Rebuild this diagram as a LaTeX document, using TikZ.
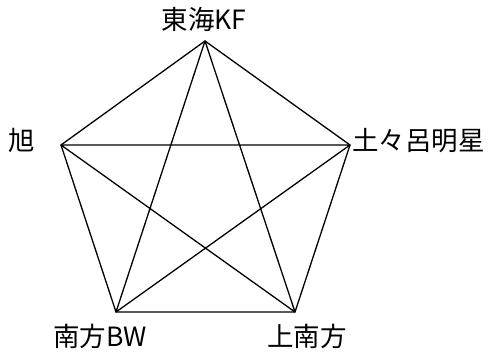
\documentclass[tikz,border=0pt]{standalone}
\usepackage{fontspec}
\setmainfont{Noto Sans CJK JP}
\usetikzlibrary{positioning}
\tikzset{
  station/.style={inner sep=0pt, font=\fontsize{26.5}{30}\selectfont},
  link/.style={line width=1.3pt, line join=round}
}

\begin{document}
\begin{tikzpicture}[x=1pt, y=-1pt]
      \useasboundingbox (0, 0) rectangle (500, 355);
      % corners of the pentagon
      \coordinate (tokai) at (205, 41);
      \coordinate (totoro) at (350, 145);
      \coordinate (kaminan) at (295, 312);
      \coordinate (minami) at (116, 312);
      \coordinate (asahi) at (61, 145);
      % names
      \node[station] (tokailabel) at (204, 19) {東海KF};
      \node[station, anchor=west] (totorolabel) at (352, 141) {土々呂明星};
      \node[station] (kaminanlabel) at (307, 336) {上南方};
      \node[station] (minamilabel) at (100, 336) {南方BW};
      \node[station] (asahilabel) at (22, 140) {旭};
      % outer ring and diagonals
      \draw[link] (tokai) -- (totoro) -- (kaminan) -- (minami) -- (asahi) -- cycle;
      \draw[link] (tokai) -- (kaminan) -- (asahi) -- (totoro) -- (minami) -- cycle;
    \end{tikzpicture}
\end{document}
